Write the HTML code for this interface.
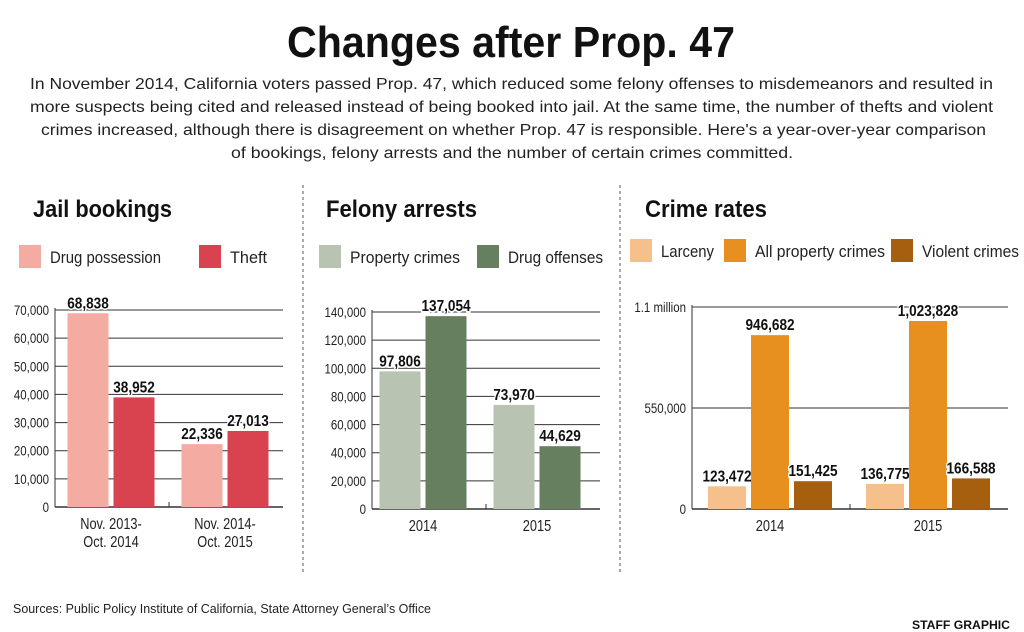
<!DOCTYPE html>
<html><head><meta charset="utf-8">
<style>
body{margin:0;background:#fff;}
svg{display:block;font-family:"Liberation Sans",sans-serif;}
.t{font-weight:bold;}
</style></head><body>
<svg id="svg" width="1024" height="632" viewBox="0 0 1024 632">
<text x="287" y="57" font-size="44" class="t" fill="#111" textLength="448" lengthAdjust="spacingAndGlyphs">Changes after Prop. 47</text>
<g font-size="16" fill="#222">
<text x="30" y="89" textLength="963" lengthAdjust="spacingAndGlyphs">In November 2014, California voters passed Prop. 47, which reduced some felony offenses to misdemeanors and resulted in</text>
<text x="30" y="112" textLength="963" lengthAdjust="spacingAndGlyphs">more suspects being cited and released instead of being booked into jail. At the same time, the number of thefts and violent</text>
<text x="41" y="135" textLength="945" lengthAdjust="spacingAndGlyphs">crimes increased, although there is disagreement on whether Prop. 47 is responsible. Here's a year-over-year comparison</text>
<text x="231" y="158" textLength="562" lengthAdjust="spacingAndGlyphs">of bookings, felony arrests and the number of certain crimes committed.</text>
</g>
<line x1="303" y1="185" x2="303" y2="572" stroke="#555" stroke-dasharray="3,3"/>
<line x1="620" y1="185" x2="620" y2="572" stroke="#555" stroke-dasharray="3,3"/>
<text x="33" y="217" font-size="24" class="t" fill="#111" textLength="139" lengthAdjust="spacingAndGlyphs">Jail bookings</text>
<text x="326" y="217" font-size="24" class="t" fill="#111" textLength="151" lengthAdjust="spacingAndGlyphs">Felony arrests</text>
<text x="645" y="217" font-size="24" class="t" fill="#111" textLength="122" lengthAdjust="spacingAndGlyphs">Crime rates</text>
<g id="charts"></g>
<text x="13" y="613" font-size="13" fill="#222" textLength="418" lengthAdjust="spacingAndGlyphs">Sources: Public Policy Institute of California, State Attorney General’s Office</text>
<text x="912" y="629" font-size="12" class="t" fill="#111" textLength="98" lengthAdjust="spacingAndGlyphs">STAFF GRAPHIC</text>
</svg>
<script>
// Chart 1: Jail bookings
const jailCategories = ["Nov. 2013-|Oct. 2014", "Nov. 2014-|Oct. 2015"];
const jailSeriesNames = ["Drug possession", "Theft"];
const jailDrug = [68838, 22336];
const jailTheft = [38952, 27013];
const jailTicks = [0,10000,20000,30000,40000,50000,60000,70000];
// Chart 2: Felony arrests
const felonyCategories = ["2014", "2015"];
const felonySeriesNames = ["Property crimes", "Drug offenses"];
const felonyProperty = [97806, 73970];
const felonyDrug = [137054, 44629];
const felonyTicks = [0,20000,40000,60000,80000,100000,120000,140000];
// Chart 3: Crime rates
const crimeCategories = ["2014", "2015"];
const crimeSeriesNames = ["Larceny", "All property crimes", "Violent crimes"];
const crimeLarceny = [123472, 136775];
const crimeProperty = [946682, 1023828];
const crimeViolent = [151425, 166588];
const crimeTicks = [0, 550000, 1100000];
const crimeTickLabels = ["0", "550,000", "1.1 million"];

const NS = "http://www.w3.org/2000/svg";
const root = document.getElementById("charts");
function mk(tag, attrs, parent){const e=document.createElementNS(NS,tag);for(const k in attrs)e.setAttribute(k,attrs[k]);(parent||root).appendChild(e);return e;}
function ctext(x, y, str, attrs, parent, sx){
  const t = mk("text", Object.assign({x:0,y:0,transform:`translate(${x},${y}) scale(${sx||0.8},1)`}, attrs), parent);
  t.textContent = str;
  return t;
}
const fmt = v => v.toLocaleString("en-US");

function chart(cfg){
  const g = mk("g",{});
  
  
  const y = v => cfg.y0 - v / cfg.max * (cfg.y0 - cfg.yTop);
  cfg.legend.forEach((l,i)=>{
    const r = mk("rect",{x:l.x,y:cfg.legY,width:22,height:23,fill:cfg.colors[i]},g);
    
    
    const t = mk("text",{x:l.x+31,y:cfg.legY+18,"font-size":17,fill:"#222",textLength:l.w,lengthAdjust:"spacingAndGlyphs"},g);
    t.textContent = cfg.seriesNames[i];
    
    
  });
  cfg.ticks.forEach((tv,i)=>{
    if(tv>0){
      const ln = mk("line",{x1:cfg.x0,x2:cfg.x1,y1:y(tv),y2:y(tv),stroke:"#333","stroke-width":1},g);
      
      
    }
    const t = ctext(cfg.x0-6, y(tv)+5, cfg.tickLabels ? cfg.tickLabels[i] : fmt(tv), {"font-size":14,fill:"#222","text-anchor":"end"}, g, 0.82);
    
    
  });
  const ax = mk("line",{x1:cfg.x0,x2:cfg.x1,y1:cfg.y0,y2:cfg.y0,stroke:"#333","stroke-width":1.5},g);
  
  
  const ay = mk("line",{x1:cfg.x0,x2:cfg.x0,y1:cfg.y0,y2:y(cfg.ticks[cfg.ticks.length-1])-2,stroke:"#333","stroke-width":1},g);
  
  
  const n = cfg.series.length;
  const groupW = (cfg.x1 - cfg.x0) / cfg.categories.length;
  cfg.categories.forEach((c,ci)=>{
    const gx = cfg.x0 + groupW*ci;
    const totalW = n*cfg.bw + (n-1)*cfg.gap;
    const sx = gx + groupW/2 - totalW/2 + (cfg.shift||0);
    if(ci>0){
      const tk = mk("line",{x1:gx,x2:gx,y1:cfg.y0,y2:cfg.y0-5,stroke:"#333"},g);
      
      
    }
    cfg.series.forEach((s,si)=>{
      const v = s[ci];
      const bx = sx + si*(cfg.bw+cfg.gap);
      const r = mk("rect",{x:bx,y:y(v),width:cfg.bw,height:cfg.y0-y(v),fill:cfg.colors[si]},g);
      
      
      const t = ctext(bx+cfg.bw/2, y(v)-5, fmt(v), {"font-size":16,"font-weight":"bold",fill:"#111","text-anchor":"middle",stroke:"#fff","stroke-width":3,"paint-order":"stroke"}, g, 0.85);
      
      
    });
    c.split("|").forEach((line,li)=>{
      const t = ctext(gx+groupW/2+(cfg.shift||0), cfg.y0+22+li*18, line, {"font-size":16,fill:"#222","text-anchor":"middle"}, g, 0.8);
      
      
    });
  });
}
chart({name:"jail-bookings-chart",x0:55,x1:283,y0:507,yTop:310,max:70000,ticks:jailTicks,
  categories:jailCategories,series:[jailDrug,jailTheft],seriesNames:jailSeriesNames,
  colors:["#f4aba1","#d9434f"],bw:41,gap:5,shift:-1,legY:245,legend:[{x:19,w:111},{x:199,w:37}]});
chart({name:"felony-arrests-chart",x0:372,x1:600,y0:509,yTop:312,max:140000,ticks:felonyTicks,
  categories:felonyCategories,series:[felonyProperty,felonyDrug],seriesNames:felonySeriesNames,
  colors:["#b8c3b1","#667f5e"],bw:41,gap:5,shift:-6,legY:245,legend:[{x:319,w:110},{x:477,w:95}]});
chart({name:"crime-rates-chart",x0:692,x1:1008,y0:509,yTop:307,max:1100000,ticks:crimeTicks,tickLabels:crimeTickLabels,
  categories:crimeCategories,series:[crimeLarceny,crimeProperty,crimeViolent],seriesNames:crimeSeriesNames,
  colors:["#f5c08b","#e8901f","#a55f0e"],bw:38,gap:5,shift:-1,legY:239,legend:[{x:630,w:53},{x:724,w:130},{x:891,w:97}]});
</script>
</body></html>
